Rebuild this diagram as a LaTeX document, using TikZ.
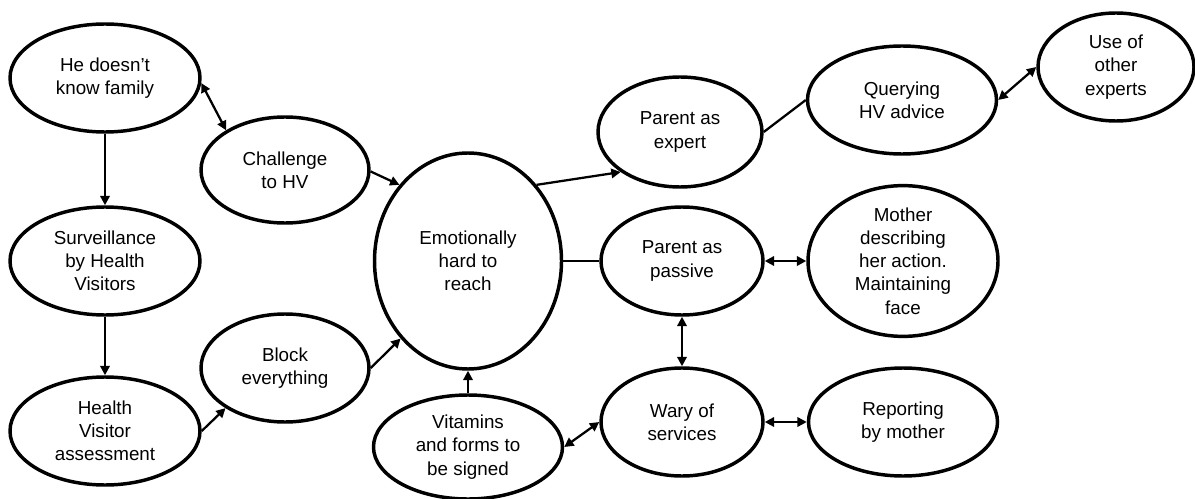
\documentclass[tikz,border=0pt]{standalone}
\usepackage{fontspec}
\setmainfont{Liberation Sans}
\usetikzlibrary{shapes.geometric,arrows.meta}
\begin{document}
\begin{tikzpicture}[x=0.75pt,y=-0.75pt,
  bubble/.style={draw=black,line width=2.6pt,ellipse,inner sep=0pt,align=center,
    font=\fontsize{14.1}{17.4}\selectfont},
  size/.style 2 args={minimum width=#1*0.75pt,minimum height=#2*0.75pt},
  link/.style={line width=1.7pt,draw=black},
  tip/.tip={Triangle[length=7pt,width=7pt]},
  one/.style={link,-tip},
  both/.style={link,tip-tip}]
\useasboundingbox (0,0) rectangle (1195,499);
% left column
\node[bubble,size={190}{108}] (he) at (105,78) {He doesn’t\\know family};
\node[bubble,size={190}{108}] (surv) at (105,261) {Surveillance\\by Health\\Visitors};
\node[bubble,size={190}{108}] (hva) at (105,431) {Health\\Visitor\\assessment};
% second column
\node[bubble,size={168}{106}] (chal) at (285,170) {Challenge\\to HV};
\node[bubble,size={168}{108}] (block) at (285,368) {Block\\everything};
% centre
\node[bubble,size={187}{216}] (emo) at (468,261) {Emotionally\\hard to\\reach};
\node[bubble,size={189}{104}] (vit) at (468,447) {Vitamins\\and forms to\\be signed};
% right side
\node[bubble,size={164}{110}] (exp) at (680,132) {Parent as\\expert};
\node[bubble,size={162}{108}] (pas) at (682,261) {Parent as\\passive};
\node[bubble,size={162}{108}] (wary) at (682,422) {Wary of\\services};
\node[bubble,size={189}{108}] (query) at (902,100) {Querying\\HV advice};
\node[bubble,size={190}{130}] (mother) at (903,261) {Mother\\describing\\her action.\\Maintaining\\face};
\node[bubble,size={189}{108}] (report) at (903,422) {Reporting\\by mother};
\node[bubble,size={156}{108}] (use) at (1116,67) {Use of\\other\\experts};
% connectors
\draw[both] (he.-3) -- (chal.146);
\draw[one] (he.south) -- (surv.north);
\draw[one] (surv.south) -- (hva.north);
\draw[one] (hva.east) -- (block.214);
\draw[one] (chal.-1) -- (emo.132);
\draw[one] (block.east) -- (emo.229);
\draw[one] (vit.north) -- (emo.south);
\draw[one] (emo.48) -- (exp.214);
\draw[link] (emo.east) -- (pas.west);
\draw[link] (exp.east) -- (query.west);
\draw[both] (query.east) -- (use.west);
\draw[both] (pas.east) -- (mother.west);
\draw[both] (pas.south) -- (wary.north);
\draw[both] (wary.east) -- (report.west);
\draw[both] (vit.east) -- (wary.west);
\end{tikzpicture}
\end{document}
